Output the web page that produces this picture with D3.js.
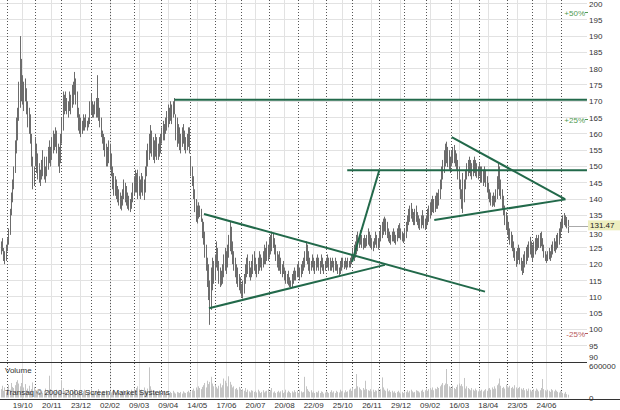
<!DOCTYPE html>
<html><head><meta charset="utf-8">
<script src="https://cdn.jsdelivr.net/npm/d3@7"></script>
<style>html,body{margin:0;padding:0;background:#fff;}svg{display:block;}text{font-family:"Liberation Sans",Arial,sans-serif;}</style>
</head><body><svg id="c" width="620" height="410"></svg>
<script>
// ---- data (bar index = trading day) ----
const highs = [
127,128,125,124,126,128,131,137,142,146,
150,158,165,168,176,190,183,178,176,177,
174,170,168,166,160,153,150,159,157,154,
151,149,152,155,153,150,153,156,158,156,
159,161,160,162,161,157,156,160,165,173,
172,173,171,170,173,172,175,176,179,177,
173,168,166,165,164,166,165,166,164,165,
170,172.5,170,169,170,171,178,171,168,165,
161,160,159,157,156,158,157,154,150,148,
147,146,144,143,142,141,143,146,145,144,
142,141,140,142,145,147,149,148,149,147,
146,148,147,146,150,155,157,160,162.7,161,
159,158,160,159,157,159,160,162,164,163,
165,167,169,168,170,169,170,171,166,165,
163,162,160,162,163,161,159,160,162,162,
153,150,147,143,140,138,139,138,137,134,
133,130,126,122,120,115,119,122,121,123,
127,125,121,119,118,120,123,125,124,126,
129,133,131.5,127,124,122,120,119,117,116,
114,115,117,120,122,123,121,119,121,123,
124,122,120,122,124,123,122,124,126,125,
127,126,128,129,130,129.5,128,126,124,123,
124,122,120,121,119,118,117,118,116,115,
117,118,119,118,120,121,119,120,121,122,
124,127,126,124,122,121,123,122,121,122,
123,122,121,123,122,120,121,122,123,122,
122,121,122,121,122,121,120,119,121,122,
122,121,122,121,122,121,122,123,125,126,
127,129,130,129,130.5,129,128,129,128,129,
131,130,129,128,127,128,130,129,128,130,
132,133,134,134.6,134,133,131,130,129,130,
131,130,129,131,132,132.6,131,130,129.5,131,
133,135,137,138,138.8,137,136,137,138,136,
135,134,135,136.6,135,134,135,137,138,139,
140,141,140,141,142,141.9,143,146,150,152,
155,157,157.6,156,155,153,155,156,156.6,155,
154,152,150,146,143,148,146,149,151,152,
153,152,151,152,153,152,151,150,151,150,
150,149,150,149,147,145,143,142,141,142,
141,143,147,151,150,146,143,141,138,136,
135,133,131,130,129,127,125,124,125,126,
125,122,121,123,124,125.3,126,127,128.4,127,
126,127,128,129,128,129,129.6,130,128,126,
124,123,124,125,124,126,127,128,127,129,
129.6,131,133,134,135,135.7,135,134.5,133.6
];
const lows = [
123,124,121,120,121,124,126,129,135,139,
143,148,154,158,164,168,170,169,167,170,
166,162,160,157,150,143,144,150,148,146,
145,144,146,147,146,145,147,149,151,150,
152,154,155,156,154,150,148,151,157,161,
166,167,166,165,167,166,168,169,172,169,
165,161,160,159,160,161,161,162,161,162,
163,166,165,165,166,165,165,164,162,159,
157,155,153,150,150,151,149,147,143,141,
141,140,139,138,137,136.5,138,140,139,138,
137,136.5,136,137,139,141,142,142,140,141,
140,142,141,139.7,142,147,150,152,154,153,
152,151,153,152,152,153,154,157,158,158,
160,161,162,163,164,163,165,166,158,156,
157,155,154,156,157,155,154,155,156,154,
147,144,140,136,133,132.5,134,134.5,133,128,
126,122,118,113,109,101.4,106,112,114,115,
119,118,114,113,113.5,114,116,118,117,119,
122,124,123,120,118,116,114,113,112,111,
110,109.5,111,114,116,117,116,115,116,117,
118,117,116,117,118,119,118,119,120,120,
121,121,122,123,124,125,123,121,119,118,
118,117,116,117,115,114,114,113.5,113,113,
113,114,115,115,116,116,115,116,117,118,
119,121,120,118,117,118,119,118,117,118,
119,118,117,119,118,117,118,119,119,118,
118,118,119,117.5,118,118,117,116.7,117,118,
119,118.5,119,118.3,119,119,119,120,120.7,121,
122,123,124,125,126,125,124.5,125,125,125.5,
126,125.5,125,124.5,124,125,126,125,124.5,125,
127,128,129,130,129,128,127,126.5,126,127,
127,126.5,126,127,128,128,127.5,127,126.5,127,
128,130,132,133,134,133,132,132,133,132,
131,130.5,131,132,131,130.5,131,132,133,134,
135,136,135.7,136,137,137,138,140,143,146,
148,150,151,149.8,149,148,150,151,151,150,
149,146,143,140,137,135.7,139,143,146,147,
148,147,146,147,148,147,146.5,146,147,145,
145,144,145,143.7,142,140,139,138,137.6,138,
137.6,139,140,143,141,140,137,135,132,130.5,
129,127.5,126,125,124,122,121,119.2,120,121.3,
120,118,116.7,117.3,119,120,121,122,123,122,
121,122,123,124,124.4,125,125,125.5,124,122,
121,120.4,121,121.5,121,122,123,124,123.5,124.5,
125,126,128,130,131,132,131.5,131,129.6
];
// volume in thousands of units
const volumesK = [
150,210,120,180,90,160,230,140,260,190,
170,220,280,310,250,200,260,420,180,240,
130,160,210,110,150,270,190,140,120,100,
90,140,110,80,120,160,100,130,390,150,
90,120,70,100,140,80,110,130,310,170,
120,100,90,140,80,110,130,90,150,120,
100,80,120,90,70,110,140,100,80,90,
130,160,90,110,80,120,100,150,90,70,
80,110,90,130,100,70,120,90,110,140,
100,80,120,90,70,110,90,130,100,80,
90,120,100,140,110,160,130,170,200,150,
120,140,100,180,130,110,160,540,200,140,
120,90,110,80,100,130,90,70,100,120,
80,90,110,70,100,80,120,90,70,100,
90,80,100,70,110,90,80,100,120,90,
110,130,160,120,180,140,200,170,150,190,
220,260,180,300,240,280,370,250,200,230,
190,160,210,250,180,220,340,300,260,200,
380,280,230,180,200,150,170,140,190,160,
130,150,120,170,100,140,110,90,130,120,
100,120,90,140,110,80,100,130,90,110,
120,150,100,130,170,90,110,80,100,120,
90,110,130,80,100,140,90,120,100,80,
110,90,130,100,120,80,140,110,90,100,
370,200,150,120,100,130,90,110,80,100,
90,120,80,110,100,70,90,120,100,80,
100,130,90,110,80,120,100,90,140,110,
120,90,130,100,110,140,160,120,180,150,
160,420,200,180,150,130,170,140,300,150,
130,120,150,110,140,100,130,120,160,110,
150,360,180,140,120,160,110,130,100,120,
90,110,80,100,120,90,70,100,80,110,
100,130,90,120,140,110,90,100,130,120,
110,90,120,140,100,130,160,120,150,170,
140,180,130,160,150,190,170,200,230,260,
220,250,510,240,200,180,160,210,170,150,
190,230,250,210,240,200,350,160,200,170,
150,130,170,140,120,160,130,110,150,120,
140,110,130,150,120,160,170,140,180,150,
200,160,220,250,340,210,170,190,160,230,
200,180,210,170,190,160,220,180,150,170,
190,160,140,170,130,150,120,160,140,110,
130,150,120,160,140,110,130,170,330,150,
130,110,140,120,100,150,130,110,140,120,
100,90,120,110,80,70,100,60,50
];
const lastClose = 131.47;
const dateLabels = ["19/10","20/11","23/12","02/02","09/03","09/04","14/05","17/06","20/07","20/08","22/09","25/10","26/11","29/12","09/02","16/03","18/04","23/05","24/06"];
const dateLabelIdx = [17,40,63,86,109,132,155,178,201,224,247,270,293,316,339,362,385,408,431];
const monthStartIdx = [5,27,48,71,86,105,127,150,169,190,212,235,257,278,299,319,336,356,378,400,420,443];
const priceTicks = [90,95,100,105,110,115,120,125,130,135,140,145,150,155,160,165,170,175,180,185,190,195,200];
const volumeTicksK = [0,600];
const pctLevels = [0.5,0.25,-0.25];
const pctLabels = ["+50%","+25%","-25%"];
// trendlines: [startIdx, startPrice, endIdx, endPrice]
const trendLines = [
  [137,170.5,463,170.5],
  [273.5,148.8,463,148.8],
  [277.3,120.7,298.9,148.9],
  [160.3,135.4,382.4,111.6],
  [164.2,106.5,303.3,119.8],
  [356.1,159.0,445.6,140.0],
  [342.3,133.6,446.1,139.9]
];

// ---- scales ----
const N = Math.min(highs.length, lows.length, volumesK.length);
const x = d3.scaleLinear().domain([0,448]).range([1.2,568]);
const y = d3.scaleLinear().domain([90,200]).range([362,3.5]);
const yv = d3.scaleLinear().domain([0,600]).range([397.5,364]);
const plotRight = 587;

const svg = d3.select("#c");
svg.append("rect").attr("width",620).attr("height",410).attr("fill","#fff");

const px = v => Math.floor(v) + 0.5;

// horizontal price grid
svg.append("g").selectAll("line").data(priceTicks.filter(t=>t>90)).join("line")
  .attr("x1",0).attr("x2",plotRight)
  .attr("y1",d=>px(y(d))).attr("y2",d=>px(y(d)))
  .attr("stroke","#e2e2e2").attr("stroke-width",1);

// light vertical grid at label positions
svg.append("g").selectAll("line").data(dateLabelIdx).join("line")
  .attr("x1",d=>px(x(d))).attr("x2",d=>px(x(d)))
  .attr("y1",0).attr("y2",399)
  .attr("stroke","#e2e2e2").attr("stroke-width",1);

// dotted month-start lines
svg.append("g").selectAll("line").data(monthStartIdx).join("line")
  .attr("x1",d=>px(x(d))).attr("x2",d=>px(x(d)))
  .attr("y1",0).attr("y2",399)
  .attr("stroke","#555").attr("stroke-width",1).attr("stroke-dasharray","1,2");

// panel separators
svg.append("line").attr("x1",0).attr("x2",plotRight).attr("y1",362.5).attr("y2",362.5)
  .attr("stroke","#333").attr("stroke-width",1);
svg.append("line").attr("x1",0).attr("x2",620).attr("y1",399.5).attr("y2",399.5)
  .attr("stroke","#333").attr("stroke-width",1);

// volume bars
svg.append("g").selectAll("line").data(d3.range(N)).join("line")
  .attr("x1",i=>px(x(i))).attr("x2",i=>px(x(i)))
  .attr("y1",yv(0)).attr("y2",i=>Math.min(yv(volumesK[i]), yv(0)-1))
  .attr("stroke","#c4c4c4").attr("stroke-width",1);

// price bars (high-low)
svg.append("g").selectAll("line").data(d3.range(N)).join("line")
  .attr("x1",i=>px(x(i))).attr("x2",i=>px(x(i)))
  .attr("y1",i=>y(highs[i])).attr("y2",i=>Math.max(y(lows[i]), y(highs[i])+1))
  .attr("stroke","#6c6c6c").attr("stroke-width",1);

// trendlines
svg.append("g").selectAll("line").data(trendLines).join("line")
  .attr("x1",d=>Math.min(x(d[0]),plotRight)).attr("y1",d=>y(d[1]))
  .attr("x2",d=>Math.min(x(d[2]),plotRight)).attr("y2",d=>y(d[3]))
  .attr("stroke","#22694a").attr("stroke-width",2).attr("stroke-linecap","butt");

// last price line
svg.append("line").attr("x1",x(N-1)).attr("x2",588)
  .attr("y1",px(y(lastClose))).attr("y2",px(y(lastClose)))
  .attr("stroke","#aaa").attr("stroke-width",1);

// price axis labels (nudge the ones that sit under the last-price box / volume label)
const boxTop = y(lastClose) - 6.5, boxBottom = boxTop + 10;
const labelY = d => {
  let yy = y(d) + 3;
  if (yy - 6 < boxBottom && yy > boxTop) yy = boxBottom + 6.5;
  if (d === 90) yy = y(d) - 2;
  return yy;
};
svg.append("g").selectAll("text").data(priceTicks).join("text")
  .attr("x",589).attr("y",labelY)
  .attr("font-size",8).attr("fill","#333").text(d=>d);

svg.append("rect").attr("x",588).attr("y",boxTop).attr("width",32).attr("height",10)
  .attr("fill","#eeeebf");
svg.append("text").attr("x",590).attr("y",boxTop+8)
  .attr("font-size",8).attr("fill","#222").text(lastClose.toFixed(2));

// percent levels
const pg = svg.append("g");
pctLevels.forEach((p,k)=>{
  const yy = y(lastClose*(1+p));
  const col = p>0 ? "#4f9a4f" : "#b85a5a";
  pg.append("text").attr("x",585).attr("y",yy+3).attr("text-anchor","end")
    .attr("font-size",8).attr("fill",col).text(pctLabels[k]);
  pg.append("line").attr("x1",585).attr("x2",588).attr("y1",px(yy)).attr("y2",px(yy))
    .attr("stroke",col).attr("stroke-width",1);
});

// volume axis labels
svg.append("g").selectAll("text").data(volumeTicksK).join("text")
  .attr("x",589).attr("y",d=>d===600 ? yv(d)+5 : yv(d)+3)
  .attr("font-size",8).attr("fill","#333").text(d=>d*1000);

// date labels
svg.append("g").selectAll("text").data(dateLabels).join("text")
  .attr("x",(d,i)=>x(dateLabelIdx[i])).attr("y",407.5).attr("text-anchor","middle")
  .attr("font-size",8).attr("fill","#333").text(d=>d);

// panel captions
svg.append("text").attr("x",5).attr("y",373).attr("font-size",8).attr("fill","#333").text("Volume");
svg.append("text").attr("x",5).attr("y",395).attr("font-size",8).attr("fill","#333")
  .text("Transaq \u00A9 2000-2008 Screen Market Systems");
</script></body></html>
